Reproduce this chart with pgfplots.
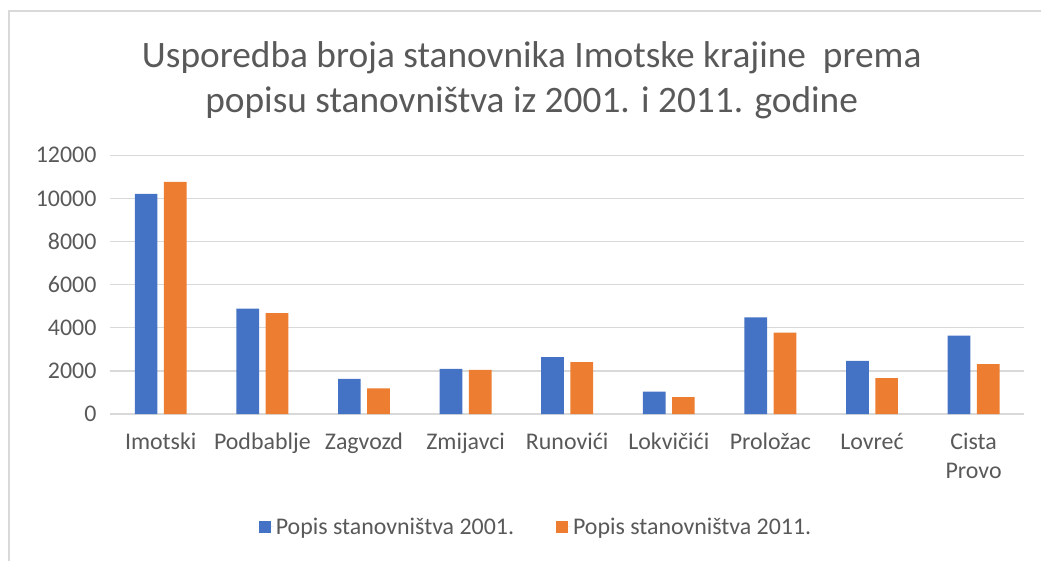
\documentclass[border=0pt]{standalone}
\usepackage{pgfplots}
\pgfplotsset{compat=1.18}
\usepackage{fontspec}
\setmainfont{Carlito}
\definecolor{cblue}{HTML}{4472C4}
\definecolor{corange}{HTML}{ED7D31}
\definecolor{cgrid}{HTML}{D9D9D9}
\definecolor{ctext}{HTML}{595959}
\begin{document}
\begin{tikzpicture}
\begin{axis}[
  name=ax,
  at={(0,0)}, anchor=south west,
  scale only axis, width=915bp, height=259bp,
  ymin=0, ymax=12000, ytick={0,2000,...,12000},
  scaled y ticks=false,
  xmin=-0.5, xmax=8.5,
  xtick=data,
  xticklabels={\strut Imotski,\strut Podbablje,\strut Zagvozd,\strut Zmijavci,\strut Runovići,\strut Lokvičići,\strut Proložac,\strut Lovreć,\strut Cista\\\strut Provo},
  xticklabel style={align=center,font=\fontsize{24}{29}\selectfont,text=ctext,yshift=-12bp},
  yticklabel style={font=\fontsize{24}{29}\selectfont,text=ctext,xshift=-10bp},
  /pgf/number format/assume math mode=true,
  /pgf/number format/1000 sep={},
  major tick length=0pt,
  axis line style={draw=none},
  ymajorgrids, grid style={cgrid,line width=1.2bp},
  ybar=6.5bp, bar width=22.7bp,
  legend style={draw=none,at={(0.466,-0.435)},anchor=center,legend columns=2,
     font=\fontsize{24}{29}\selectfont,text=ctext,
     /tikz/every even column/.append style={column sep=40bp}},
  legend image code/.code={\fill[#1] (0bp,-6bp) rectangle (12bp,6bp); \path (0bp,0bp) -- (15bp,0bp);},
]
\addplot[fill=cblue,draw=none] coordinates {(0,10213) (1,4892) (2,1632) (3,2100) (4,2638) (5,1036) (6,4480) (7,2470) (8,3640)};
\addplot[fill=corange,draw=none] coordinates {(0,10764) (1,4680) (2,1188) (3,2048) (4,2410) (5,790) (6,3770) (7,1670) (8,2320)};
\legend{Popis stanovništva 2001.,Popis stanovništva 2011.}
\end{axis}
\begin{scope}[shift={(-110bp,-146.7bp)}]
\path (0,0) rectangle (1042bp,561bp);
\draw[cgrid,line width=1.2bp] (9bp,0) -- (9bp,550bp) -- (1042bp,550bp);
\node[ctext,font=\fontsize{37.5}{45}\selectfont] at (532bp,503bp) {Usporedba broja stanovnika Imotske krajine\ \ prema};
\node[ctext,font=\fontsize{37.5}{45}\selectfont] at (532bp,458bp) {popisu stanovništva iz 2001. i 2011. godine};
\end{scope}
\end{tikzpicture}
\end{document}
